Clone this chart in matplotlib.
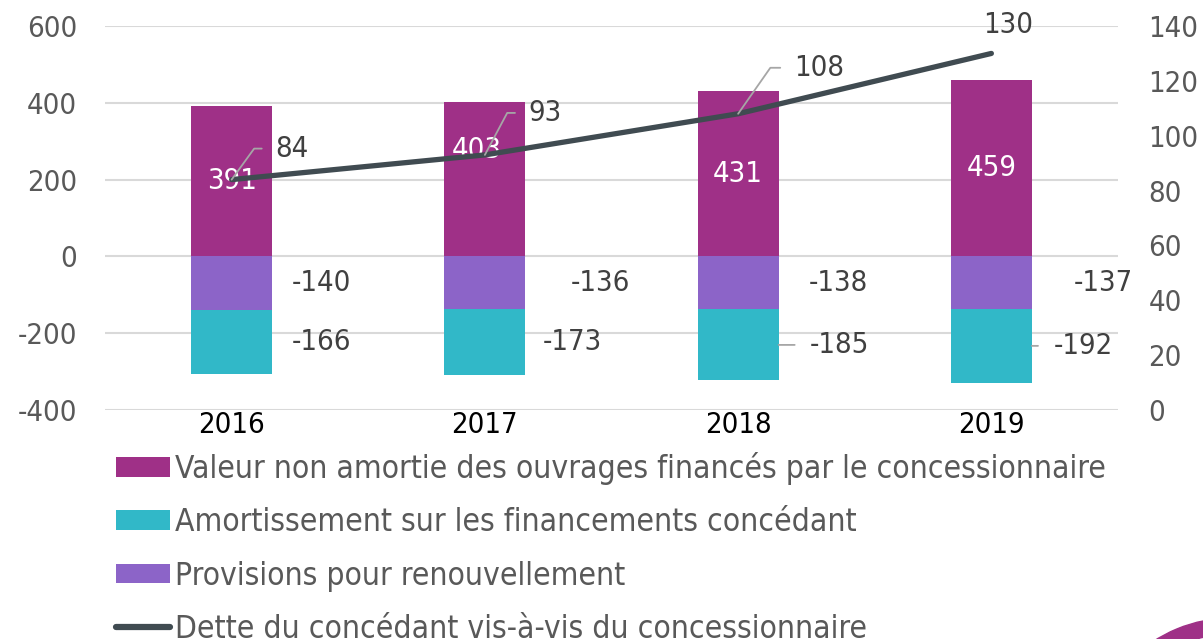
import matplotlib
matplotlib.use('Agg')
import matplotlib.pyplot as plt
from matplotlib.patches import Patch, Wedge
from matplotlib.lines import Line2D

# data
years = ['2016', '2017', '2018', '2019']
valeur = [391, 403, 431, 459]
provisions = [-140, -136, -138, -137]
amortissement = [-166, -173, -185, -192]
dette = [84, 93, 108, 130]

c_val = '#9F3087'
c_prov = '#8C64C8'
c_amort = '#31B8C8'
c_line = '#404B51'
c_txt = '#404040'
c_tick = '#595959'
c_lead = '#A6A6A6'

plt.rcParams['font.family'] = ['DejaVu Sans']
plt.rcParams['font.stretch'] = 'condensed'
plt.rcParams['axes.unicode_minus'] = False

fig = plt.figure(figsize=(12.03, 6.39), dpi=100)
ax = fig.add_axes([105/1203, 1-410/639, (1118-105)/1203, (410-26)/639])
ax2 = ax.twinx()

x = range(len(years))
w = 0.32
ax.bar(x, valeur, w, color=c_val, zorder=2)
ax.bar(x, provisions, w, color=c_prov, zorder=2)
ax.bar(x, amortissement, w, bottom=provisions, color=c_amort, zorder=2)

ax.set_ylim(-400, 600)
ax.set_yticks(range(-400, 601, 200))
ax.set_xlim(-0.5, 3.5)
ax.set_xticks(list(x))
ax.set_xticklabels(years, fontsize=21, color='black')
ax.tick_params(axis='x', length=0, pad=1)
ax.tick_params(axis='y', length=0, pad=20, labelsize=21, labelcolor=c_tick)
ax.grid(axis='y', color='#D9D9D9', lw=1.5, zorder=0)
ax.set_axisbelow(True)
for s in ax.spines.values():
    s.set_visible(False)

ax2.plot(x, dette, color=c_line, lw=3.8, solid_capstyle='round', zorder=3)
ax2.set_ylim(0, 140)
ax2.set_yticks(range(0, 141, 20))
ax2.tick_params(axis='y', length=0, pad=22, labelsize=21, labelcolor=c_tick)
for s in ax2.spines.values():
    s.set_visible(False)

# labels in the positive bars (pixel offsets from the bar centre)
val_off = [(0, 0), (-8, 29), (0, 0), (0, 0)]
for i, v in enumerate(valeur):
    ax.annotate(str(v), (i, v/2), xytext=val_off[i], textcoords='offset pixels',
                ha='center', va='center', color='white', fontsize=21, zorder=4)

# labels beside the negative bars
prov_dx = [90, 116, 100, 112]
amort_dx = [90, 88, 102, 92]
for i in x:
    ax.annotate(str(provisions[i]), (i, provisions[i]/2), xytext=(prov_dx[i], 0),
                textcoords='offset pixels', ha='center', va='center',
                color=c_txt, fontsize=21)
    mid = provisions[i] + amortissement[i]/2
    if i >= 2:
        ax.annotate(str(amortissement[i]), (i + w/2, mid),
                    xytext=(amort_dx[i] - 41, 0), textcoords='offset pixels',
                    ha='center', va='center', color=c_txt, fontsize=21,
                    arrowprops=dict(arrowstyle='-', color=c_lead, lw=1.3,
                                    shrinkA=9, shrinkB=0, relpos=(0, 0.5)))
    else:
        ax.annotate(str(amortissement[i]), (i, mid), xytext=(amort_dx[i], 0),
                    textcoords='offset pixels', ha='center', va='center',
                    color=c_txt, fontsize=21)

# line labels with leader lines
line_off = [(44, 31), (44, 42), (56, 46), (-8, 28)]
line_ang = [54, 62, 55, None]
for i, v in enumerate(dette):
    if line_ang[i] is None:
        ax2.annotate(str(v), (i, v), xytext=line_off[i], textcoords='offset pixels',
                     ha='left', va='center', color=c_txt, fontsize=21)
    else:
        ax2.annotate(str(v), (i, v), xytext=line_off[i], textcoords='offset pixels',
                     ha='left', va='center', color=c_txt, fontsize=21,
                     arrowprops=dict(arrowstyle='-', color=c_lead, lw=1.3,
                                     connectionstyle='angle,angleA=0,angleB=%d' % line_ang[i],
                                     shrinkA=8, shrinkB=0, relpos=(0, 0.5)))

# legend
handles = [Patch(facecolor=c_val), Patch(facecolor=c_amort), Patch(facecolor=c_prov),
           Line2D([0], [0], color=c_line, lw=4.5, solid_capstyle='round')]
labels = ['Valeur non amortie des ouvrages financés par le concessionnaire',
          'Amortissement sur les financements concédant',
          'Provisions pour renouvellement',
          'Dette du concédant vis-à-vis du concessionnaire']
fig.legend(handles, labels, loc='upper left', bbox_to_anchor=(116/1203, 1-452/639),
           frameon=False, fontsize=22.8, labelcolor=c_tick, handlelength=1.7,
           handleheight=0.58, handletextpad=0.15, labelspacing=0.705,
           borderpad=0, borderaxespad=0)

# decorative corner shape
deco = fig.add_axes([0, 0, 1, 1], zorder=-1)
deco.set_xlim(0, 1203)
deco.set_ylim(639, 0)
deco.axis('off')
deco.add_patch(Wedge((1232, 762), 144, 0, 360, width=16, color=c_val))

fig.savefig('out.png', dpi=100)
